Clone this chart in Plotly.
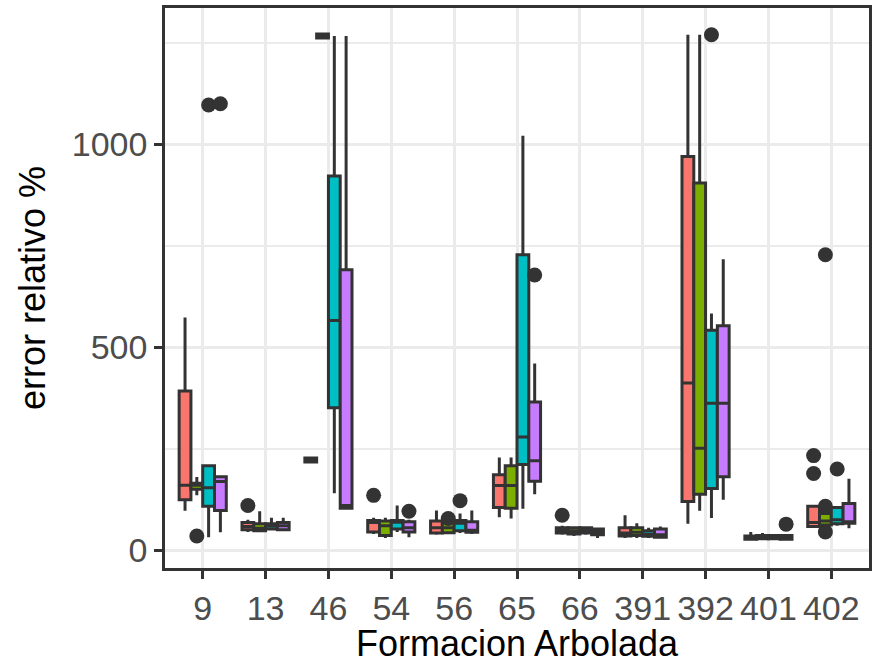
import plotly.graph_objects as go

categories = ["9", "13", "46", "54", "56", "65", "66", "391", "392", "401", "402"]
groups = ["A", "B", "C", "D"]
colors = ["#F8766D", "#7CAE00", "#00BFC4", "#C77CFF"]

# five-number summaries per group (one value per category)
red_lo  = [97, 45, 217, 40, 38, 81, 38, 30, 65, 24, 55]
red_q1  = [124, 50, 217, 45, 42, 105, 42, 35, 120, 27, 58]
red_med = [160, 58, 222, 68, 55, 159, 48, 42, 412, 30, 68]
red_q3  = [392, 68, 227, 73, 72, 186, 55, 55, 970, 35, 108]
red_hi  = [573, 75, 227, 80, 98, 228, 60, 86, 1270, 45, 110]

grn_lo  = [135, 45, 1262, 30, 40, 78, 35, 30, 97, 25, 55]
grn_q1  = [150, 48, 1262, 36, 43, 103, 40, 36, 138, 28, 62]
grn_med = [160, 54, 1267, 60, 55, 159, 47, 44, 251, 31, 72]
grn_q3  = [165, 65, 1272, 72, 68, 208, 55, 55, 905, 36, 90]
grn_hi  = [180, 96, 1272, 80, 70, 228, 58, 66, 1270, 42, 100]

cyn_lo  = [32, 50, 140, 45, 42, 102, 38, 30, 79, 25, 60]
cyn_q1  = [108, 52, 351, 52, 48, 211, 42, 34, 152, 28, 65]
cyn_med = [154, 60, 566, 69, 66, 279, 48, 39, 362, 32, 75]
cyn_q3  = [208, 65, 922, 73, 73, 728, 55, 48, 542, 36, 105]
cyn_hi  = [208, 80, 1267, 110, 90, 1021, 58, 55, 583, 40, 105]

pur_lo  = [44, 48, 103, 32, 40, 138, 30, 30, 124, 24, 54]
pur_q1  = [98, 50, 103, 45, 44, 170, 38, 32, 181, 27, 66]
pur_med = [169, 60, 110, 55, 49, 220, 45, 38, 362, 30, 70]
pur_q3  = [181, 68, 691, 70, 70, 365, 52, 52, 553, 36, 115]
pur_hi  = [181, 80, 1267, 75, 98, 460, 55, 58, 717, 40, 176]

# outliers: (category, value)
red_out = [("13", 110), ("54", 135), ("66", 86), ("402", 233), ("402", 189)]
grn_out = [("9", 35), ("56", 78), ("402", 728), ("402", 108), ("402", 45)]
cyn_out = [("9", 1097), ("56", 122), ("392", 1270), ("402", 200)]
pur_out = [("9", 1100), ("54", 96), ("65", 678), ("401", 64)]

stats = [
    (red_lo, red_q1, red_med, red_q3, red_hi, red_out),
    (grn_lo, grn_q1, grn_med, grn_q3, grn_hi, grn_out),
    (cyn_lo, cyn_q1, cyn_med, cyn_q3, cyn_hi, cyn_out),
    (pur_lo, pur_q1, pur_med, pur_q3, pur_hi, pur_out),
]

dodge_total = 0.75
n = len(groups)
bw = dodge_total / n
offsets = [-dodge_total / 2 + bw * (k + 0.5) for k in range(n)]
idx = {c: i for i, c in enumerate(categories)}

fig = go.Figure()
for k, (lo, q1, med, q3, hi, outs) in enumerate(stats):
    xs = [i + offsets[k] for i in range(len(categories))]
    fig.add_trace(go.Box(
        x=xs, q1=q1, median=med, q3=q3, lowerfence=lo, upperfence=hi,
        width=bw, fillcolor=colors[k], whiskerwidth=0,
        line=dict(color="#333333", width=3), boxpoints=False,
        showlegend=False, name=groups[k], hoverinfo="skip",
    ))
    fig.add_trace(go.Scatter(
        x=[idx[c] + offsets[k] for c, v in outs],
        y=[v for c, v in outs],
        mode="markers", marker=dict(color="#333333", size=15),
        showlegend=False, hoverinfo="skip",
    ))

font_family = "Liberation Sans, Arial, sans-serif"
fig.update_layout(
    width=877, height=664,
    margin=dict(l=165, r=6, t=5, b=96),
    paper_bgcolor="white", plot_bgcolor="white",
    font=dict(family=font_family, size=34, color="#4D4D4D"),
    showlegend=False,
)
fig.update_xaxes(
    range=[-0.6, len(categories) - 0.4],
    tickmode="array", tickvals=list(range(len(categories))), ticktext=categories,
    showgrid=True, gridcolor="#EBEBEB", gridwidth=3,
    zeroline=False, showline=True, mirror=True, linecolor="#333333", linewidth=2.5,
    ticks="outside", ticklen=8, tickwidth=2.5, tickcolor="#333333",
    tickfont=dict(size=34, color="#4D4D4D"),
    title=dict(text="Formacion Arbolada", font=dict(size=36, color="black"), standoff=6),
)
fig.update_yaxes(
    range=[-44, 1336],
    tickmode="linear", tick0=0, dtick=500,
    showgrid=True, gridcolor="#EBEBEB", gridwidth=3,
    minor=dict(dtick=250, tick0=0, showgrid=True, gridcolor="#EBEBEB", gridwidth=1.5),
    zeroline=False, showline=True, mirror=True, linecolor="#333333", linewidth=2.5,
    ticks="outside", ticklen=8, tickwidth=2.5, tickcolor="#333333",
    tickfont=dict(size=34, color="#4D4D4D"),
    title=dict(text="error relativo %", font=dict(size=36, color="black"), standoff=16),
)

fig.write_html("out.html")
